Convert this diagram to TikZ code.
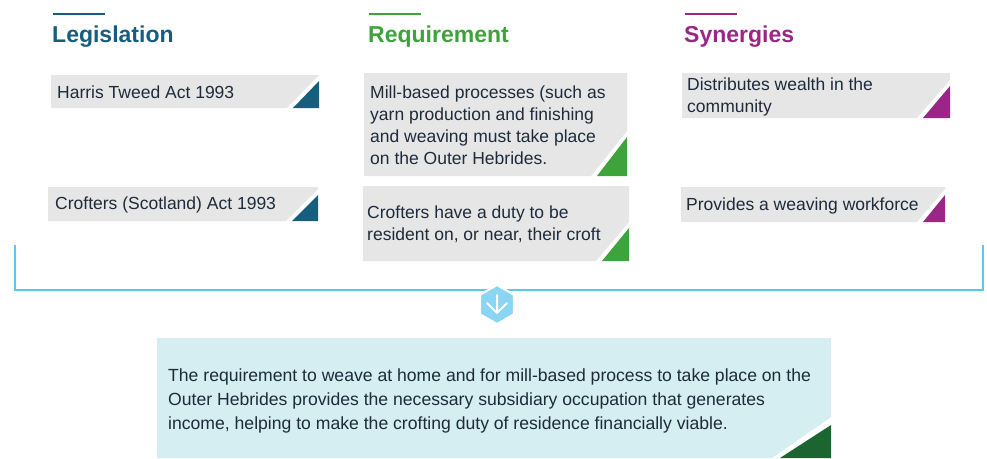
\documentclass[tikz,border=0pt]{standalone}
\usepackage{fontspec}
\setmainfont{Liberation Sans}
\usetikzlibrary{shapes.geometric}

\definecolor{legcol}{HTML}{175D7E}
\definecolor{reqcol}{HTML}{3FA33B}
\definecolor{syncol}{HTML}{9A2787}
\definecolor{ink}{HTML}{1E2B3A}
\definecolor{boxgray}{HTML}{E6E6E6}
\definecolor{linkblue}{HTML}{5EC6EE}
\definecolor{hexblue}{HTML}{8AD5F3}
\definecolor{sumfill}{HTML}{D4EEF1}
\definecolor{sumtri}{HTML}{1C6530}

\begin{document}
\begin{tikzpicture}[x=1pt, y=-1pt, inner sep=0pt]
  \tikzstyle{title} = [anchor=base west, font=\fontsize{23}{28}\selectfont\bfseries]
  \tikzstyle{boxtext} = [anchor=west, align=left, text=ink, font=\fontsize{17.5}{22}\selectfont]
  \tikzstyle{sumtext} = [anchor=west, align=left, text=ink, font=\fontsize{17.6}{24}\selectfont]
  \tikzstyle{bracket} = [draw=linkblue, line width=1.5pt]
  \tikzstyle{hexa} = [regular polygon, regular polygon sides=6, shape border rotate=30,
                      minimum size=39pt, fill=hexblue, draw=white, line width=2pt]
  \useasboundingbox (0,0) rectangle (987,458);

  % column heads
  \node[title, text=legcol] (legtitle) at (52,42)  {Legislation};
  \node[title, text=reqcol] (reqtitle) at (368,42) {Requirement};
  \node[title, text=syncol] (syntitle) at (684,42) {Synergies};
  \draw[legcol, line width=2pt] (legtitle.base west) ++(1,-28) -- ++(52,0);
  \draw[reqcol, line width=2pt] (reqtitle.base west) ++(1,-28) -- ++(52,0);
  \draw[syncol, line width=2pt] (syntitle.base west) ++(1,-28) -- ++(52,0);

  % grey boxes with corner triangles
  \foreach \l/\t/\r/\b/\w/\h/\c in {51/75/319/108/26/27/legcol, 48/187/318/221/26/26/legcol,
                                    364/73/627/176/30/39/reqcol, 363/186/629/261/27/33/reqcol,
                                    682/73/950/118/27/32/syncol, 681/187/945/222/22/27/syncol}
  {
    \fill[boxgray] (\l,\t) -- (\r,\t) -- (\r,\b-\h-6) -- (\r-\w-6,\b) -- (\l,\b) -- cycle;
    \fill[\c] (\r,\b) -- (\r,\b-\h) -- (\r-\w,\b) -- cycle;
  }
  \node[boxtext] (harris)    at (57,92)    {Harris Tweed Act 1993};
  \node[boxtext] (crofters)  at (55,204.5) {Crofters (Scotland) Act 1993};
  \node[boxtext] (mill)      at (370,125)  {Mill-based processes (such as\\ yarn production and finishing\\ and weaving must take place\\ on the Outer Hebrides.};
  \node[boxtext] (duty)      at (367,224)  {Crofters have a duty to be\\ resident on, or near, their croft};
  \node[boxtext] (wealth)    at (687,96.5) {Distributes wealth in the\\ community};
  \node[boxtext] (workforce) at (686,205.5) {Provides a weaving workforce};

  % bracket and arrow
  \coordinate (brl) at (15,245);
  \coordinate (brr) at (983,245);
  \draw[bracket] (brl) -- ++(0,45) -| (brr);
  \node[hexa] (hex) at (497,304.5) {};
  \draw[white, line width=2pt, line cap=round, line join=round]
    (hex.center) ++(0,-9.5) -- ++(0,18) ++(-10,-10) -- ++(10,10) -- ++(10,-10);

  % summary box
  \fill[sumfill] (157,338) -- (831,338) -- (831,417) -- (772,458) -- (157,458) -- cycle;
  \fill[sumtri] (831,458) -- (831,425) -- (780,458) -- cycle;
  \node[sumtext] (summary) at (168,401) {The requirement to weave at home and for mill-based process to take place on the\\ Outer Hebrides provides the necessary subsidiary occupation that generates\\ income, helping to make the crofting duty of residence financially viable.};
\end{tikzpicture}
\end{document}
